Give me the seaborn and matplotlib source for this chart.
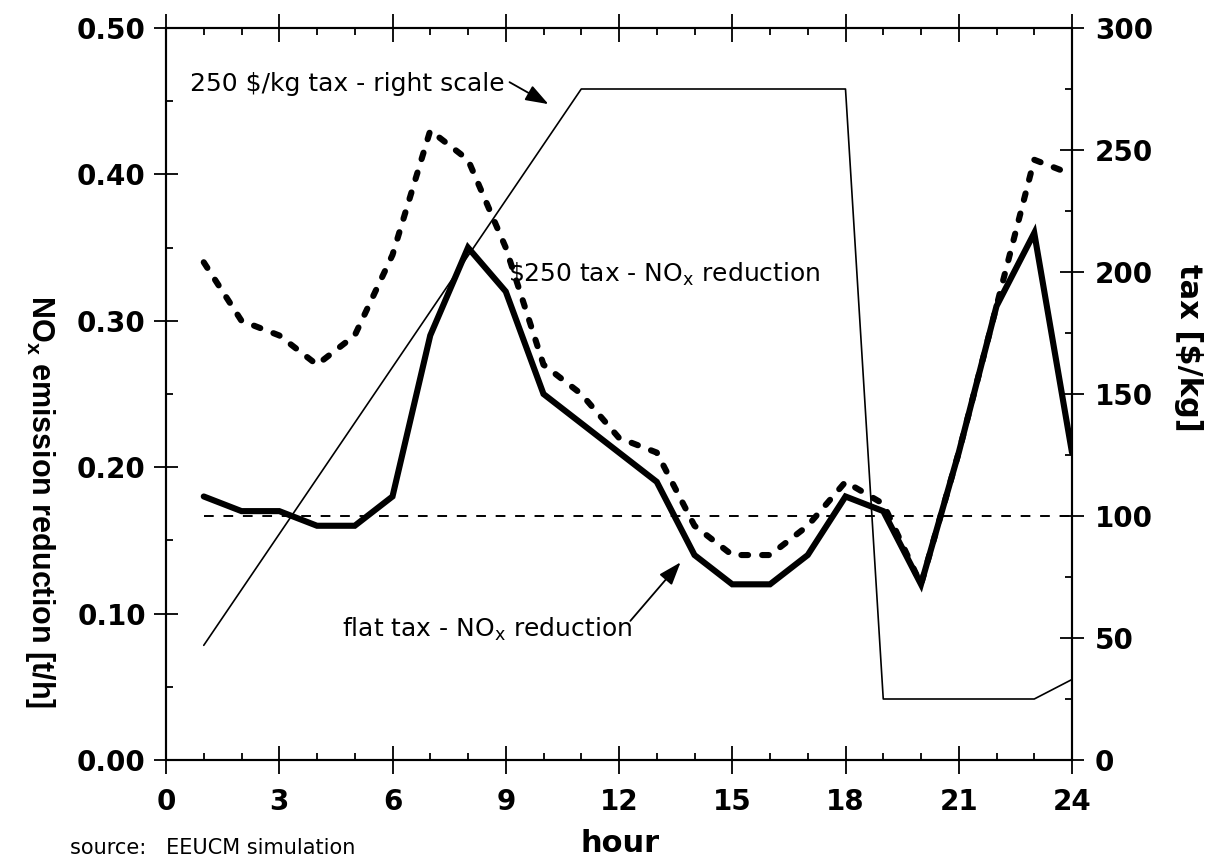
import matplotlib
matplotlib.use("Agg")
import matplotlib.pyplot as plt
from matplotlib.ticker import MultipleLocator, FormatStrFormatter
import seaborn as sns
import pandas as pd

# ---------------- data ----------------
hours = list(range(1, 25))
flat_tax_nox = [0.18, 0.17, 0.17, 0.16, 0.16, 0.18, 0.29, 0.35, 0.32, 0.25, 0.23, 0.21,
                0.19, 0.14, 0.12, 0.12, 0.14, 0.18, 0.17, 0.12, 0.21, 0.31, 0.36, 0.21]
tax250_nox = [0.34, 0.30, 0.29, 0.27, 0.29, 0.345, 0.43, 0.41, 0.35, 0.27, 0.25, 0.22,
              0.21, 0.16, 0.14, 0.14, 0.16, 0.19, 0.175, 0.12, 0.21, 0.31, 0.41, 0.40]
tax_hours = [1, 11, 18, 19, 23, 24]
tax_values = [47, 275, 275, 25, 25, 33]
flat_tax_hours = [1, 24]
flat_tax_level = [100, 100]

df_nox = pd.DataFrame({"hour": hours, "flat": flat_tax_nox, "t250": tax250_nox})
df_tax = pd.DataFrame({"hour": tax_hours, "tax": tax_values})
df_flat = pd.DataFrame({"hour": flat_tax_hours, "tax": flat_tax_level})

# ---------------- style ----------------
sns.set_style("ticks")
plt.rcParams["font.family"] = ["DejaVu Sans"]
plt.rcParams["font.weight"] = "bold"
plt.rcParams["mathtext.fontset"] = "custom"
plt.rcParams["mathtext.rm"] = "DejaVu Sans:normal"
plt.rcParams["mathtext.bf"] = "Liberation Sans:bold"
plt.rcParams["axes.linewidth"] = 1.5
for k in ["text.color", "axes.labelcolor", "xtick.color", "ytick.color",
          "axes.edgecolor", "xtick.labelcolor", "ytick.labelcolor"]:
    plt.rcParams[k] = "black"

fig = plt.figure(figsize=(12.15, 8.61), dpi=100)
ax = fig.add_axes([166 / 1215, 1 - 760 / 861, (1072 - 166) / 1215, (760 - 28) / 861])
ax2 = ax.twinx()

# ---------------- lines ----------------
sns.lineplot(data=df_nox, x="hour", y="flat", ax=ax, color="black", linewidth=4.4,
             solid_joinstyle="miter", legend=False)
sns.lineplot(data=df_nox, x="hour", y="t250", ax=ax, color="black", linewidth=4.4,
             linestyle=(0, (1.1, 2.3)), dash_capstyle="round", legend=False)
sns.lineplot(data=df_tax, x="hour", y="tax", ax=ax2, color="black", linewidth=1.2,
             legend=False)
sns.lineplot(data=df_flat, x="hour", y="tax", ax=ax2, color="black", linewidth=1.4,
             linestyle=(0, (5, 5)), legend=False)

# ---------------- axes ----------------
ax.set_xlim(0, 24)
ax.set_ylim(0, 0.5)
ax2.set_ylim(0, 300)

ax.xaxis.set_major_locator(MultipleLocator(3))
ax.xaxis.set_minor_locator(MultipleLocator(1))
ax.yaxis.set_major_locator(MultipleLocator(0.1))
ax.yaxis.set_minor_locator(MultipleLocator(0.05))
ax.yaxis.set_major_formatter(FormatStrFormatter("%.2f"))
ax2.yaxis.set_major_locator(MultipleLocator(50))
ax2.yaxis.set_minor_locator(MultipleLocator(25))

ax.tick_params(axis="x", which="both", top=True, bottom=True)
ax.tick_params(axis="x", which="major", direction="inout", length=20, width=1.3,
               labelsize=20, pad=10)
ax.tick_params(axis="y", which="major", direction="inout", length=17, width=1.3,
               labelsize=20, pad=6)
ax.tick_params(axis="both", which="minor", direction="in", length=5, width=1.3)
ax2.tick_params(axis="y", which="major", direction="inout", length=17, width=1.3,
                labelsize=20, pad=8)
ax2.tick_params(axis="y", which="minor", direction="in", length=5, width=1.3)

for a in (ax, ax2):
    for s in a.spines.values():
        s.set_visible(True)
        s.set_linewidth(1.5)
        s.set_color("black")

ax.set_xlabel("")
ax.set_ylabel("")
ax2.set_ylabel("")

# axis titles
fig.text(620 / 1215, 1 - 843 / 861, "hour", ha="center", va="center",
         fontsize=22, fontweight="bold", family="DejaVu Sans")
fig.text(40 / 1215, 1 - 502 / 861, r"NO$_\mathbf{x}$ emission reduction [t/h]",
         rotation=270, ha="center", va="center", fontsize=22,
         fontweight="bold", family="Liberation Sans")
fig.text(1188 / 1215, 1 - 348 / 861, r"tax [\$/kg]",
         rotation=270, ha="center", va="center", fontsize=22,
         fontweight="bold", family="DejaVu Sans")

# annotations
arrow = dict(arrowstyle="-|>,head_length=0.7,head_width=0.25", color="black",
             lw=1.3, mutation_scale=20, shrinkA=0, shrinkB=0)
ax.text(0.64, 0.462, r"250 \$/kg tax - right scale", ha="left", va="center",
        fontsize=18, fontweight="normal", family="DejaVu Sans")
ax.annotate("", xy=(10.13, 0.448), xytext=(9.1, 0.463), arrowprops=arrow)

ax.text(9.07, 0.332, r"\$250 tax - NO$_\mathrm{x}$ reduction", ha="left", va="center",
        fontsize=18, fontweight="normal", family="DejaVu Sans")

ax.text(4.67, 0.089, r"flat tax - NO$_\mathrm{x}$ reduction", ha="left", va="center",
        fontsize=18, fontweight="normal", family="DejaVu Sans")
ax.annotate("", xy=(13.63, 0.135), xytext=(12.3, 0.095), arrowprops=arrow)

fig.text(70 / 1215, 1 - 848 / 861, "source:   EEUCM simulation", ha="left", va="center",
         fontsize=15, fontweight="normal", family="DejaVu Sans")

fig.savefig("out.png", dpi=100)
